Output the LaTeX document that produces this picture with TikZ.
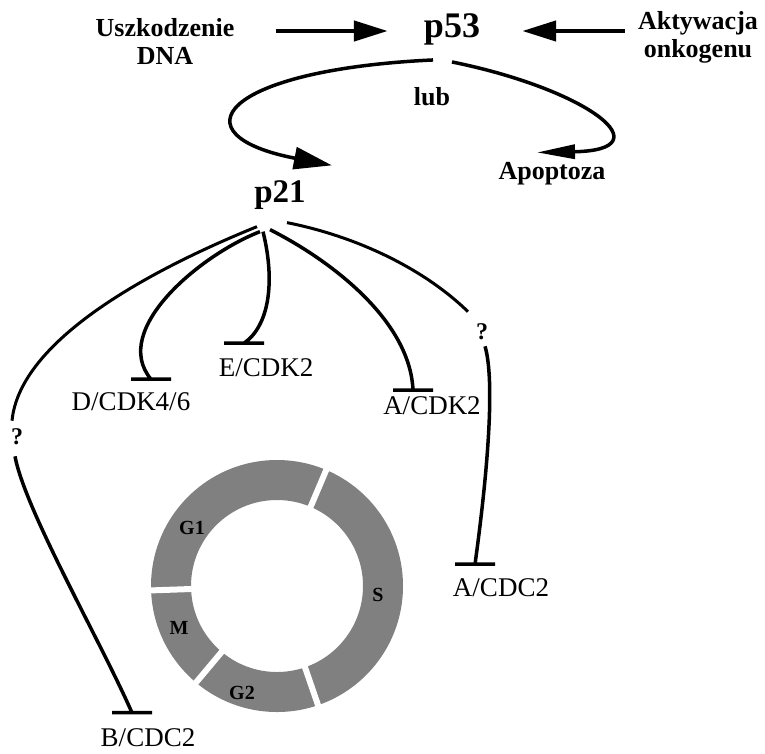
\documentclass[tikz,border=0pt]{standalone}
\usepackage{fontspec}
\setmainfont{Liberation Serif}
\usepackage{tikz}
\usetikzlibrary{calc}
\usetikzlibrary{arrows.meta}

\tikzset{
  lab/.style={inner sep=0pt, font=\fontsize{27}{30}\selectfont},
  blab/.style={inner sep=0pt, align=center, font=\bfseries\fontsize{26}{28}\selectfont},
  big/.style={inner sep=0pt, font=\bfseries\fontsize{36}{36}\selectfont},
  qm/.style={inner sep=0pt, font=\bfseries\fontsize{24}{24}\selectfont},
  phase/.style={inner sep=0pt, font=\bfseries\fontsize{20}{20}\selectfont},
  act/.style={line width=4.5pt, -{Triangle[length=34pt,width=20pt]}},
  cact/.style={line width=3.5pt, -{Triangle[length=38pt,width=22pt]}},
  arm/.style={line width=3pt},
  inh/.style={line width=3.5pt},
}

\begin{document}
\begin{tikzpicture}[x=1pt,y=-1pt]
        \useasboundingbox (0,0) rectangle (765,753);

        \node[blab] (dna) at (165,42) {Uszkodzenie\\DNA};
        \node[big] (p53) at (452,29) {p53};
        \node[blab] (onko) at (698,37) {Aktywacja\\onkogenu};
        \node[blab] (lub) at (432,97) {lub};
        \node[big, font=\bfseries\fontsize{33}{33}\selectfont] (p21) at (280,195) {p21};
        \node[blab] (apop) at (552,174) {Apoptoza};

        \node[lab] (cdk46) at (131,402) {D/CDK4/6};
        \node[lab] (ecdk2) at (266,368) {E/CDK2};
        \node[lab] (acdk2) at (432,406) {A/CDK2};
        \node[lab] (acdc2) at (501,588) {A/CDC2};
        \node[lab] (bcdc2) at (148,738) {B/CDC2};
        \node[qm] (q1) at (17,437) {?};
        \node[qm] (q2) at (482,332) {?};

        % cykl komorkowy
        \coordinate (cyc) at (277,586);
        \fill[black!50, even odd rule] (cyc) circle (126) (cyc) circle (86);
        \foreach \a in {-67,-182,-230,-289}
          \draw[white, line width=6pt] ($(cyc)+(\a:80)$) -- ($(cyc)+(\a:132)$);
        \node[phase] (g1) at (192,528) {G1};
        \node[phase] (s) at (378,595) {S};
        \node[phase] (m) at (179,628) {M};
        \node[phase] (g2) at (242,693) {G2};

        \draw[act] ($(dna.east |- p53.west)+(41,2)$) -- ($(p53.west)+(-36,2)$);
        \draw[act] ($(onko.west |- p53.east)+(-13,2)$) -- ($(p53.east)+(42,2)$);
        \draw[cact] ($(p53.south)+(-19,15)$) .. controls (220,70) and (175,135) .. ($(p21.north east)+(26,-15)$);
        \draw[cact, -{Triangle[length=38pt,width=14pt]}] ($(p53.south)+(0,17)$) .. controls (590,90) and (665,150) .. ($(apop.north)+(-15,-10)$);

        \draw[arm] ($(p21.south)+(-23,17)$) .. controls (150,270) and (20,340) .. ($(q1.north)+(-5,-8)$);
        \draw[inh] ($(q1.south)+(-2,11)$) .. controls (25,510) and (100,640) .. ($(bcdc2.north)+(-16,-16)$) ++(-20,0) -- ++(40,0);
        \draw[inh] ($(p21.south)+(-20,22)$) .. controls (200,255) and (110,330) .. ($(cdk46.north)+(20,-13.5)$) ++(-20,0) -- ++(40,0);
        \draw[inh] ($(p21.south)+(-17,22)$) .. controls (275,280) and (270,325) .. ($(ecdk2.north)+(-22,-15.5)$) ++(-20,0) -- ++(40,0);
        \draw[inh] ($(p21.south)+(-10,20)$) .. controls (330,260) and (410,320) .. ($(acdk2.north)+(-19,-6.5)$) ++(-20,0) -- ++(40,0);
        \draw[arm] ($(p21.south)+(7,13)$) .. controls (350,235) and (420,265) .. ($(q2.north)+(-14,-12)$);
        \draw[inh] ($(q2.south)+(3,6)$) .. controls (495,380) and (488,470) .. ($(acdc2.north)+(-26,-14.5)$) ++(-20,0) -- ++(40,0);
\end{tikzpicture}
\end{document}
